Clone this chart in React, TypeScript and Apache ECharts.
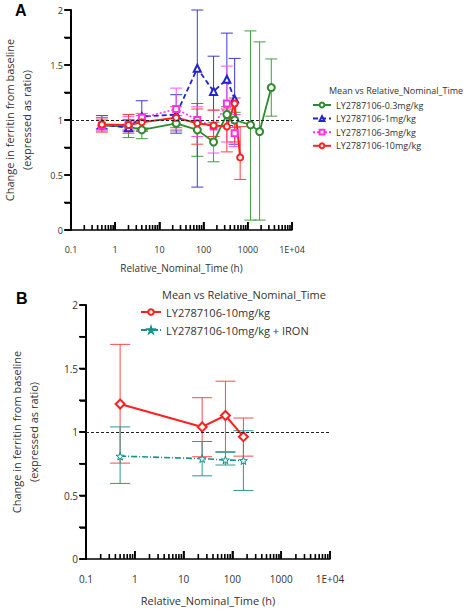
import React, { useEffect, useRef } from "react";
import * as echarts from "echarts";

// ---------- tick labels / tick positions ----------
const xTickLabels = ["0.1", "1", "10", "100", "1000", "1E+04"];
const yTickLabels = ["0", "0.5", "1", "1.5", "2"];
const yTickValues = [0, 0.25, 0.5, 0.75, 1, 1.25, 1.5, 1.75, 2];
const minorTickValues = [
  0.2, 0.3, 0.4, 0.5, 0.6, 0.7, 0.8, 0.9,
  2, 3, 4, 5, 6, 7, 8, 9,
  20, 30, 40, 50, 60, 70, 80, 90,
  200, 300, 400, 500, 600, 700, 800, 900,
  2000, 3000, 4000, 5000, 6000, 7000, 8000, 9000,
];
const majorTickValues = [0.1, 1, 10, 100, 1000, 10000];

// ---------- panel A ----------
const namesA = [
  "LY2787106-0.3mg/kg",
  "LY2787106-1mg/kg",
  "LY2787106-3mg/kg",
  "LY2787106-10mg/kg",
];
const timeGreenA = [0.5, 2, 4, 24, 72, 168, 336, 504, 1150, 1850, 3400];
const meanGreenA = [0.95, 0.94, 0.91, 0.97, 0.91, 0.8, 1.05, 1.0, 0.955, 0.895, 1.295];
const lowGreenA = [0.91, 0.84, 0.83, 0.9, 0.67, 0.62, 0.95, 0.93, 0.09, 0.09, 1.035];
const highGreenA = [1.0, 1.0, 0.99, 1.04, 1.15, 0.98, 1.12, 1.07, 1.81, 1.71, 1.555];

const timeBlueA = [0.5, 2, 4, 24, 72, 168, 336, 504];
const meanBlueA = [0.96, 0.93, 1.03, 1.05, 1.47, 1.26, 1.37, 1.19];
const lowBlueA = [0.92, 0.9, 0.9, 0.88, 0.39, 0.95, 0.95, 0.78];
const highBlueA = [1.04, 1.0, 1.175, 1.23, 2.0, 1.58, 1.79, 1.56];

const timePinkA = [0.5, 2, 4, 24, 72, 168, 336, 504];
const meanPinkA = [0.95, 0.96, 1.02, 1.1, 1.0, 0.94, 1.15, 0.88];
const lowPinkA = [0.9, 0.91, 0.93, 0.91, 0.85, 0.7, 0.8, 0.76];
const highPinkA = [1.02, 1.03, 1.06, 1.29, 1.12, 1.09, 1.49, 1.05];

const timeRedA = [0.5, 2, 4, 24, 72, 168, 336, 504, 672];
const meanRedA = [0.96, 0.955, 0.98, 1.02, 0.97, 0.95, 0.94, 1.15, 0.66];
const lowRedA = [0.89, 0.88, 0.9, 0.93, 0.78, 0.85, 0.71, 0.8, 0.46];
const highRedA = [1.02, 1.05, 1.04, 1.12, 1.1, 1.09, 1.1, 1.2, 0.94];

// ---------- panel B ----------
const namesB = ["LY2787106-10mg/kg", "LY2787106-10mg/kg + IRON"];
const timeB = [0.5, 24, 72, 168];
const meanRedB = [1.22, 1.04, 1.13, 0.963];
const lowRedB = [0.755, 0.805, 0.845, 0.81];
const highRedB = [1.69, 1.27, 1.4, 1.11];
const meanIronB = [0.81, 0.79, 0.78, 0.775];
const lowIronB = [0.595, 0.655, 0.74, 0.54];
const highIronB = [1.04, 0.925, 0.84, 1.01];

const legendTitle = "Mean vs Relative_Nominal_Time";
const xName = "Relative_Nominal_Time (h)";
const yName = "Change in ferritin from baseline\n(expressed as ratio)";

const FONT = "Open Sans";
const GREEN = "#2e8b2e";
const BLUE = "#2323d0";
const PINK = "#ff30e8";
const RED = "#ff2020";
const TEAL = "#16918a";
const STAR =
  "path://M50,0 L61,35 L98,35 L68,57 L79,91 L50,70 L21,91 L32,57 L2,35 L39,35 Z";

function zip(t: number[], m: number[]) {
  return t.map((v, i) => [v, m[i]]);
}
function zip3(t: number[], lo: number[], hi: number[]) {
  return t.map((v, i) => [v, lo[i], hi[i]]);
}

function errorBars(name: string, idx: number, data: number[][], color: string, cap: number) {
  return {
    type: "custom",
    name,
    xAxisIndex: idx,
    yAxisIndex: idx,
    silent: true,
    clip: false,
    z: 1,
    encode: { x: 0, y: [1, 2] },
    data,
    renderItem: (params: any, api: any) => {
      const x = api.value(0);
      const lo = api.coord([x, api.value(1)]);
      const hi = api.coord([x, api.value(2)]);
      const st = { stroke: color, lineWidth: 1 };
      return {
        type: "group",
        children: [
          { type: "line", shape: { x1: lo[0], y1: lo[1], x2: hi[0], y2: hi[1] }, style: st },
          { type: "line", shape: { x1: lo[0] - cap, y1: lo[1], x2: lo[0] + cap, y2: lo[1] }, style: st },
          { type: "line", shape: { x1: hi[0] - cap, y1: hi[1], x2: hi[0] + cap, y2: hi[1] }, style: st },
        ],
      };
    },
  };
}

// tick marks along the log x axis, placed by the axis scale (pointing up, inside)
function xTickMarks(name: string, idx: number, values: number[], len: number) {
  return {
    type: "scatter",
    name,
    xAxisIndex: idx,
    yAxisIndex: idx,
    silent: true,
    clip: false,
    zlevel: 1,
    z: 20,
    data: values.map((v) => [v, 0]),
    symbol: "rect",
    symbolSize: [1.6, len],
    symbolOffset: [0, -len / 2],
    itemStyle: { color: "#000", opacity: 1 },
    emphasis: { disabled: true },
  };
}

// tick marks on the y axis (pointing left, outside)
function yTickMarks(name: string, idx: number) {
  return {
    type: "scatter",
    name,
    xAxisIndex: idx,
    yAxisIndex: idx,
    silent: true,
    clip: false,
    zlevel: 1,
    z: 20,
    data: yTickValues.map((v) => [0.1, v]),
    symbol: "rect",
    symbolSize: [6, 1.6],
    symbolOffset: [-4, 0],
    itemStyle: { color: "#000", opacity: 1 },
    emphasis: { disabled: true },
  };
}

function lineSeries(
  name: string,
  idx: number,
  data: number[][],
  color: string,
  dash: any,
  width: number,
  symbol: string,
  size: number,
  extra: any = {}
) {
  return {
    type: "line",
    name,
    xAxisIndex: idx,
    yAxisIndex: idx,
    data,
    symbol,
    symbolSize: size,
    showSymbol: true,
    z: 3,
    itemStyle: { color, borderColor: color, borderWidth: 1 },
    lineStyle: { color, width, type: dash },
    ...extra,
  };
}

const refLine = {
  silent: true,
  symbol: "none",
  label: { show: false },
  lineStyle: { color: "#222", width: 1, type: [3, 2] },
  data: [{ yAxis: 1 }],
};

function xAxis(idx: number, fs: number, gap: number) {
  return {
    type: "log",
    gridIndex: idx,
    logBase: 10,
    min: 0.1,
    max: 10000,
    name: xName,
    nameLocation: "middle",
    nameGap: gap,
    nameTextStyle: { fontFamily: FONT, fontSize: fs + 1, color: "#333" },
    axisLine: { show: true, lineStyle: { color: "#000", width: 1.5 } },
    axisTick: { show: true, inside: true, length: 8, lineStyle: { color: "#000", width: 1.6 } },
    axisLabel: {
      fontFamily: FONT,
      fontSize: fs,
      color: "#333",
      margin: 15,
      formatter: (v: number) => xTickLabels[Math.round(Math.log10(v)) + 1] ?? "",
    },
    splitLine: { show: false },
    minorTick: { show: false },
  };
}

function yAxis(idx: number, fs: number, gap: number) {
  return {
    type: "value",
    gridIndex: idx,
    min: 0,
    max: 2,
    interval: 0.25,
    name: yName,
    nameLocation: "middle",
    nameGap: gap,
    nameTextStyle: { fontFamily: FONT, fontSize: 11, color: "#333", lineHeight: 17 },
    axisLine: { show: true, lineStyle: { color: "#000", width: 2 } },
    axisTick: { show: true, inside: false, length: 6, lineStyle: { color: "#000", width: 1.6 } },
    axisLabel: {
      fontFamily: FONT,
      fontSize: fs,
      color: "#333",
      margin: 8,
      formatter: (v: number) => {
        const k = Math.round(v * 2);
        return Math.abs(v * 2 - k) < 1e-6 ? yTickLabels[k] : "";
      },
    },
    splitLine: { show: false },
  };
}

export default function App() {
  const ref = useRef<HTMLDivElement>(null);
  useEffect(() => {
    if (!ref.current) return;
    const chart = echarts.init(ref.current, undefined, { renderer: "svg" });
    const option: any = {
      animation: false,
      backgroundColor: "#fff",
      textStyle: { fontFamily: FONT },
      grid: [
        { left: 70, top: 10, width: 222, height: 220 },
        { left: 78, top: 305, width: 252, height: 254 },
      ],
      xAxis: [xAxis(0, 9, 33), xAxis(1, 10, 36)],
      yAxis: [yAxis(0, 9, 36), yAxis(1, 10, 44)],
      legend: [
        {
          data: namesA,
          orient: "vertical",
          left: 307,
          top: 94,
          itemWidth: 18,
          itemHeight: 6,
          itemGap: 1.6,
          textStyle: { fontFamily: FONT, fontSize: 9, color: "#333", lineHeight: 12 },
          selectedMode: false,
        },
        {
          data: namesB,
          orient: "vertical",
          left: 135,
          top: 300,
          itemWidth: 20,
          itemHeight: 7,
          itemGap: 4,
          textStyle: { fontFamily: FONT, fontSize: 11, color: "#333", lineHeight: 14 },
          selectedMode: false,
        },
      ],
      graphic: [
        { type: "text", left: 15, top: 2, style: { text: "A", font: "bold 16px Liberation Sans", fill: "#000" } },
        { type: "text", left: 16, top: 290, style: { text: "B", font: "bold 16px Liberation Sans", fill: "#000" } },
        { type: "text", left: 329, top: 86, style: { text: legendTitle, fontFamily: FONT, fontSize: 9, fill: "#333" } },
        { type: "text", left: 162, top: 289, style: { text: legendTitle, fontFamily: FONT, fontSize: 11, fill: "#333" } },
      ],
      series: [
        errorBars("ebGreen", 0, zip3(timeGreenA, lowGreenA, highGreenA), "#3f9f3f", 6),
        errorBars("ebBlue", 0, zip3(timeBlueA, lowBlueA, highBlueA), "#3a3ae0", 6),
        errorBars("ebPink", 0, zip3(timePinkA, lowPinkA, highPinkA), "#ff55ee", 6),
        errorBars("ebRed", 0, zip3(timeRedA, lowRedA, highRedA), "#ff4040", 6),
        lineSeries(namesA[0], 0, zip(timeGreenA, meanGreenA), GREEN, "solid", 1.8, "emptyCircle", 7, { markLine: refLine }),
        lineSeries(namesA[1], 0, zip(timeBlueA, meanBlueA), BLUE, [5, 3], 1.8, "emptyTriangle", 7),
        lineSeries(namesA[2], 0, zip(timePinkA, meanPinkA), PINK, [2, 2], 1.5, "emptyRect", 6),
        lineSeries(namesA[3], 0, zip(timeRedA, meanRedA), RED, "solid", 2, "emptyCircle", 6),
        xTickMarks("minorA", 0, minorTickValues, 5),
        xTickMarks("majorA", 0, majorTickValues, 8),
        yTickMarks("yTickA", 0),
        errorBars("ebRedB", 1, zip3(timeB, lowRedB, highRedB), "#ff4a4a", 10),
        errorBars("ebIronB", 1, zip3(timeB, lowIronB, highIronB), "#2a9a90", 10),
        lineSeries(namesB[0], 1, zip(timeB, meanRedB), RED, "solid", 2, "emptyDiamond", 9, { markLine: refLine }),
        lineSeries(namesB[1], 1, zip(timeB, meanIronB), TEAL, [6, 2, 1, 2], 1.6, STAR, 8, {
          itemStyle: { color: "#e8f6f4", borderColor: TEAL, borderWidth: 1 },
        }),
        xTickMarks("minorB", 1, minorTickValues, 5),
        xTickMarks("majorB", 1, majorTickValues, 8),
        yTickMarks("yTickB", 1),
      ],
    };
    chart.setOption(option);
    return () => chart.dispose();
  }, []);
  return (
    <div
      ref={ref}
      style={{ position: "absolute", left: 0, top: 0, width: 472, height: 610, background: "#fff" }}
    />
  );
}
